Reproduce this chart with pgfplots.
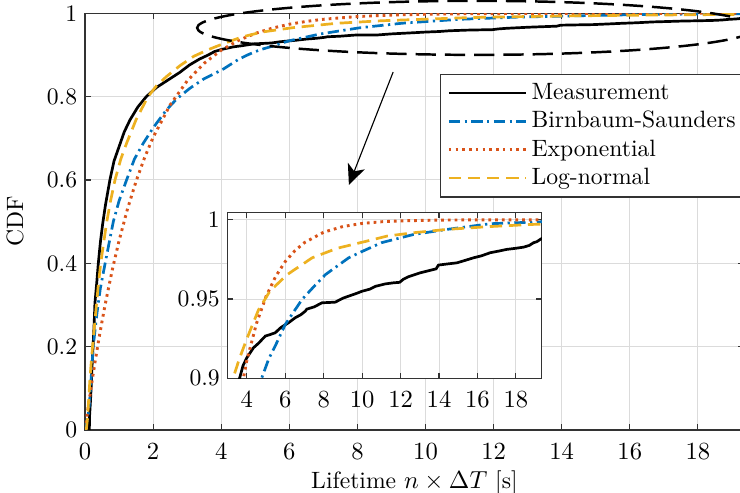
\documentclass[border=0pt]{standalone}
\usepackage{pgfplots}
\pgfplotsset{compat=1.18}
\usetikzlibrary{arrows.meta}
\definecolor{mblue}{rgb}{0,0.447,0.741}
\definecolor{mred}{rgb}{0.850,0.325,0.098}
\definecolor{myellow}{rgb}{0.929,0.694,0.125}

\pgfplotstableread{
x y
0.127 0
0.13 0.03
0.16 0.07
0.18 0.104
0.21 0.16
0.24 0.208
0.27 0.26
0.29 0.304
0.34 0.35
0.39 0.40
0.45 0.45
0.52 0.496
0.60 0.54
0.73 0.60
0.85 0.645
1.00 0.68
1.15 0.715
1.32 0.744
1.55 0.775
1.80 0.80
2.10 0.822
2.44 0.84
2.78 0.858
3.07 0.876
3.36 0.89
3.62 0.90
3.80 0.908
4.00 0.913
4.35 0.9193
4.60 0.922
4.96 0.9266
5.20 0.9275
5.48 0.9287
5.73 0.9316
5.90 0.933
6.17 0.935
6.52 0.9382
6.80 0.940
7.04 0.9423
7.12 0.9436
7.50 0.945
7.91 0.9476
8.30 0.9478
8.60 0.9480
9.00 0.9505
9.30 0.9518
9.70 0.9535
10.00 0.9549
10.40 0.9562
10.70 0.958
11.20 0.9595
11.63 0.9602
11.95 0.9605
12.15 0.9625
12.40 0.964
13.02 0.9665
13.71 0.9686
13.85 0.9690
13.97 0.9714
14.50 0.9722
14.93 0.9728
15.40 0.9745
15.80 0.976
16.20 0.9772
16.67 0.9792
17.10 0.9802
17.53 0.9813
18.00 0.982
18.40 0.9827
18.70 0.9838
18.92 0.9855
19.10 0.9862
19.27 0.9876
19.40 0.9885
}\meas

\pgfplotstableread{
x y
0 0
0.10 0.04
0.13 0.064
0.20 0.15
0.24 0.20
0.35 0.28
0.45 0.34
0.59 0.40
0.83 0.50
1.00 0.55
1.22 0.60
1.45 0.65
1.71 0.688
2.00 0.725
2.39 0.768
2.70 0.795
3.08 0.82
3.50 0.843
4.06 0.866
4.50 0.889
4.80 0.901
5.13 0.912
5.50 0.921
6.00 0.934
6.87 0.9497
7.50 0.958
8.09 0.9654
9.30 0.976
10.00 0.980
11.00 0.9855
12.67 0.9907
14.41 0.9939
16.67 0.9975
19.30 0.9987
20.00 0.999
}\bs

\pgfplotstableread{
x y
0 0
0.05 0.0298
0.10 0.0588
0.20 0.1141
0.30 0.1662
0.40 0.2153
0.50 0.2614
0.60 0.3048
0.80 0.3842
1.00 0.4545
1.25 0.5312
1.50 0.5971
1.75 0.6537
2.00 0.7024
2.50 0.7802
3.00 0.8377
3.50 0.8801
4.00 0.9114
4.50 0.9346
5.00 0.9517
5.50 0.9643
6.00 0.9737
6.50 0.9805
7.00 0.9856
8.00 0.99216
9.00 0.99573
10.00 0.99767
11.00 0.99873
12.00 0.99931
14.00 0.99979
16.00 0.99994
20.00 0.99999
}\expo

\pgfplotstableread{
x y
0 0
0.04 0.003
0.07 0.025
0.10 0.064
0.15 0.13
0.22 0.20
0.30 0.27
0.38 0.34
0.46 0.40
0.63 0.496
0.75 0.55
0.88 0.60
1.05 0.65
1.22 0.688
1.50 0.745
1.85 0.80
2.10 0.826
2.39 0.848
2.80 0.875
3.20 0.897
3.60 0.912
4.00 0.925
4.60 0.943
5.20 0.955
6.10 0.9654
7.40 0.976
8.70 0.982
10.20 0.9864
11.30 0.9897
12.67 0.9918
14.41 0.9939
16.50 0.9956
18.75 0.997
20.00 0.9975
}\logn

\pgfplotsset{
  mataxis/.style={
    scale only axis,
    grid=major,
    major grid style={black!14, line width=0.4pt},
    tick align=inside,
    xtick pos=both, ytick pos=both,
    major tick length=2.5pt,
    axis line style={black!80, line width=0.5pt},
    every tick/.style={black!80, line width=0.5pt},
    tick label style={font=\fontsize{10.5}{12.6}\selectfont},
    xticklabel style={yshift=-2.5pt},
  },
  smeas/.style={black, line width=1.2pt},
  sbs/.style={mblue, line width=1.2pt, dash pattern=on 5pt off 2pt on 1pt off 2pt},
  sexp/.style={mred, line width=1.3pt, dash pattern=on 1.2pt off 1.8pt},
  slogn/.style={myellow, line width=1.2pt, dash pattern=on 5.5pt off 3pt},
}

\begin{document}
\begin{tikzpicture}
\useasboundingbox (-37.8pt,-28pt) rectangle (291.1pt,191.1pt);
\begin{axis}[
  mataxis,
  at={(0,0)}, anchor=south west,
  width=292.8pt, height=185.2pt,
  xmin=0, xmax=19.35, ymin=0, ymax=1,
  xtick={0,2,...,18},
  ytick={0,0.2,0.4,0.6,0.8,1},
  yticklabels={0,0.2,0.4,0.6,0.8,1},
  xlabel={Lifetime $n\times\Delta T$ [s]},
  ylabel={CDF},
  label style={font=\fontsize{10.5}{12.6}\selectfont},
  xlabel style={yshift=2pt},
  ylabel style={yshift=3.5pt},
  clip mode=individual,
  legend cell align=left,
  legend style={at={(0.5388,0.855)}, anchor=north west, draw=black!80,
    line width=0.5pt, font=\fontsize{10.5}{12}\selectfont, fill=white,
    row sep=-0.2pt},
  legend image code/.code={\draw[#1] (0cm,0cm) -- (1.2cm,0cm);},
]
\addplot[smeas] table {\meas};
\addlegendentry{Measurement}
\addplot[sbs] table {\bs};
\addlegendentry{Birnbaum-Saunders}
\addplot[sexp] table {\expo};
\addlegendentry{Exponential}
\addplot[slogn] table {\logn};
\addlegendentry{Log-normal}
\draw[black, line width=1.1pt, dash pattern=on 9pt off 4pt]
  (axis cs:11.5,0.965) ellipse [x radius=124.2pt, y radius=12pt];
\draw[black, line width=0.5pt, -{Stealth[length=9pt,width=8pt,inset=2.5pt]}]
  (axis cs:9.05,0.859) -- (axis cs:7.75,0.588);
\end{axis}

\begin{axis}[
  mataxis,
  at={(63.4pt,23pt)}, anchor=south west,
  width=139.6pt, height=73.8pt,
  xmin=3, xmax=19.35, ymin=0.9, ymax=1.0048,
  xtick={4,6,...,18},
  ytick={0.9,0.95,1},
  yticklabels={0.9,0.95,1},
  axis background/.style={fill=white},
]
\addplot[smeas] table {\meas};
\addplot[sbs] table {\bs};
\addplot[sexp] table {\expo};
\addplot[slogn] table {\logn};
\end{axis}
\end{tikzpicture}
\end{document}
